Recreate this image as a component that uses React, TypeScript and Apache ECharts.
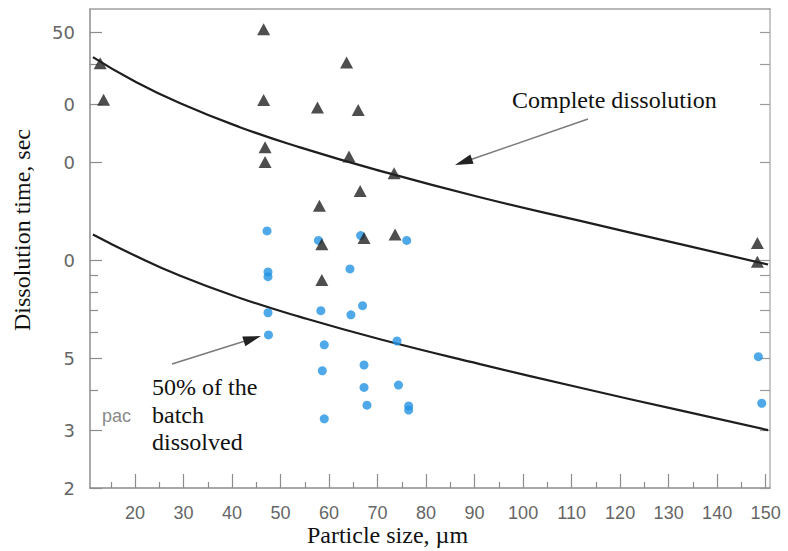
import React, { useEffect, useRef } from "react";
import * as echarts from "echarts";

// ---- axis ticks ----
const xTickValues = [20, 30, 40, 50, 60, 70, 80, 90, 100, 110, 120, 130, 140, 150];
const xMinorTickValues = [15, 25, 35, 45, 55, 65, 75, 85, 95, 105, 115, 125, 135, 145];
const yTickValues = [2, 3, 5, 10, 20, 30, 50];
const yTickLabels = ["2", "3", "5", "0", "0", "0", "50"];
const yMinorTickValues = [4, 6, 7, 8, 9, 40];
const xRange = [10.7, 150.9];
const yRange = [2, 59];

// ---- complete dissolution (triangles) ----
const triX = [12.8, 13.5, 46.5, 46.5, 46.8, 46.8, 63.6, 57.6, 66.0, 64.1, 73.4, 66.4, 58.0, 58.5, 67.2, 73.6, 58.5, 148.3, 148.3];
const triY = [40.2, 31.1, 51.1, 31.0, 22.2, 20.0, 40.4, 29.4, 28.9, 20.8, 18.5, 16.3, 14.7, 11.2, 11.7, 12.0, 8.7, 11.3, 9.9];

// ---- 50% dissolved (circles) ----
const circX = [47.2, 47.4, 47.4, 47.4, 47.5, 57.8, 66.5, 76.0, 64.3, 58.3, 64.5, 66.9, 74.0, 59.0, 58.6, 67.2, 67.2, 74.3, 67.8, 76.4, 76.4, 59.0, 148.5, 149.2];
const circY = [12.3, 9.2, 8.9, 6.9, 5.9, 11.5, 11.9, 11.5, 9.4, 7.0, 6.8, 7.25, 5.65, 5.5, 4.58, 4.77, 4.07, 4.14, 3.59, 3.57, 3.47, 3.26, 5.06, 3.64];

// ---- fitted curves ----
const curveX = [11.3, 19.6, 29.3, 41.6, 54.0, 70.5, 91.1, 111.8, 132.4, 150.5];
const upperY = [42.0, 35.6, 30.3, 25.6, 22.2, 18.8, 15.6, 13.2, 11.2, 9.7];
const lowerY = [12.0, 10.4, 8.96, 7.66, 6.70, 5.72, 4.80, 4.06, 3.46, 3.01];

const lg = (v: number) => Math.log10(v);
const pairs = (xs: number[], ys: number[]) => xs.map((x, i) => [x, lg(ys[i])]);

export default function App() {
  const ref = useRef<HTMLDivElement>(null);

  useEffect(() => {
    document.body.style.margin = "0";
    const chart = echarts.init(ref.current!, null, { renderer: "svg" });
    const axisGray = "#8c8c8c";
    const labelGray = "#666666";
    const serif = '"Liberation Serif", "Times New Roman", serif';

    const yLabelFmt = (v: number) => {
      const i = yTickValues.findIndex((t) => Math.abs(lg(t) - v) < 1e-6);
      return i >= 0 ? yTickLabels[i] : "";
    };

    const textStyle = (text: string, font: string, fill: string, align: string) => ({
      text,
      font,
      fill,
      textAlign: align,
      textVerticalAlign: "middle",
      align,
      verticalAlign: "middle",
    });

    const option: any = {
      animation: false,
      backgroundColor: "#ffffff",
      grid: { left: 90, right: 18, top: 9, bottom: 63, containLabel: false, outerBoundsMode: "none" },
      xAxis: [
        {
          type: "value",
          min: xRange[0],
          max: xRange[1],
          position: "bottom",
          axisLine: { show: true, lineStyle: { color: axisGray, width: 1.5 } },
          axisTick: { show: true, inside: true, length: 14, customValues: xTickValues, lineStyle: { color: axisGray, width: 1.2 } },
          axisLabel: {
            show: true,
            customValues: xTickValues,
            margin: 16,
            color: labelGray,
            fontSize: 18,
            fontFamily: '"Liberation Sans", Arial, sans-serif',
            formatter: (v: number) => String(Math.round(v)),
          },
          splitLine: { show: false },
        },
        {
          type: "value",
          min: xRange[0],
          max: xRange[1],
          position: "bottom",
          axisLine: { show: false },
          axisTick: { show: true, inside: true, length: 6, customValues: xMinorTickValues, lineStyle: { color: axisGray, width: 1.2 } },
          axisLabel: { show: false },
          splitLine: { show: false },
        },
        {
          type: "value",
          min: xRange[0],
          max: xRange[1],
          position: "top",
          axisLine: { show: true, lineStyle: { color: "#a0a0a0", width: 1.5 } },
          axisTick: { show: false },
          axisLabel: { show: false },
          splitLine: { show: false },
        },
      ],
      yAxis: [
        {
          type: "value",
          min: lg(yRange[0]),
          max: lg(yRange[1]),
          position: "left",
          axisLine: { show: true, lineStyle: { color: axisGray, width: 1.5 } },
          axisTick: { show: true, inside: true, length: 12, customValues: yTickValues.map(lg), lineStyle: { color: axisGray, width: 1.2 } },
          axisLabel: {
            show: true,
            customValues: yTickValues.map(lg),
            margin: 15,
            color: labelGray,
            fontSize: 18,
            fontFamily: '"DejaVu Sans", sans-serif',
            padding: [6, 0, 0, 0],
            formatter: yLabelFmt,
          },
          splitLine: { show: false },
        },
        {
          type: "value",
          min: lg(yRange[0]),
          max: lg(yRange[1]),
          position: "left",
          axisLine: { show: false },
          axisTick: { show: true, inside: true, length: 8, customValues: yMinorTickValues.map(lg), lineStyle: { color: axisGray, width: 1.2 } },
          axisLabel: { show: false },
          splitLine: { show: false },
        },
        {
          type: "value",
          min: lg(yRange[0]),
          max: lg(yRange[1]),
          position: "right",
          axisLine: { show: true, lineStyle: { color: "#b5b5b5", width: 1.5 } },
          axisTick: {
            show: true,
            inside: true,
            length: 10,
            customValues: yTickValues.concat(yMinorTickValues).map(lg),
            lineStyle: { color: "#9a9a9a", width: 1.2 },
          },
          axisLabel: { show: false },
          splitLine: { show: false },
        },
      ],
      series: [
        {
          type: "line",
          name: "Complete dissolution fit",
          xAxisIndex: 0,
          yAxisIndex: 0,
          data: pairs(curveX, upperY),
          smooth: true,
          showSymbol: false,
          symbol: "none",
          lineStyle: { color: "#1e1e1e", width: 2.2 },
          z: 2,
        },
        {
          type: "line",
          name: "50% dissolved fit",
          xAxisIndex: 0,
          yAxisIndex: 0,
          data: pairs(curveX, lowerY),
          smooth: true,
          showSymbol: false,
          symbol: "none",
          lineStyle: { color: "#1e1e1e", width: 2.2 },
          z: 2,
        },
        {
          type: "scatter",
          name: "50% of the batch dissolved",
          xAxisIndex: 0,
          yAxisIndex: 0,
          data: pairs(circX, circY),
          symbol: "circle",
          symbolSize: 9,
          itemStyle: { color: "#2394e4" },
          z: 3,
        },
        {
          type: "scatter",
          name: "Complete dissolution",
          xAxisIndex: 0,
          yAxisIndex: 0,
          data: pairs(triX, triY),
          symbol: "triangle",
          symbolSize: [13, 12],
          itemStyle: { color: "#222222" },
          z: 4,
        },
      ],
      graphic: [
        { type: "text", x: 22, y: 230, rotation: Math.PI / 2, style: textStyle("Dissolution time, sec", `24px ${serif}`, "#111", "center") },
        { type: "text", x: 387.5, y: 535, style: textStyle("Particle size, \u00b5m", `24px ${serif}`, "#111", "center") },
        { type: "text", x: 512, y: 100, style: textStyle("Complete dissolution", `24px ${serif}`, "#111", "left") },
        { type: "text", x: 152, y: 387, style: textStyle("50% of the", `24px ${serif}`, "#111", "left") },
        { type: "text", x: 152, y: 415, style: textStyle("batch", `24px ${serif}`, "#111", "left") },
        { type: "text", x: 152, y: 442, style: textStyle("dissolved", `24px ${serif}`, "#111", "left") },
        { type: "text", x: 102, y: 416, style: textStyle("pac", '18px "Liberation Sans", Arial, sans-serif', "#8a8a8a", "left") },
        { type: "line", shape: { x1: 588, y1: 119, x2: 471, y2: 159.5 }, style: { stroke: "#7a7a7a", lineWidth: 1.5 } },
        { type: "polygon", shape: { points: [[455, 165], [473.6, 163.8], [470.3, 154.4]] }, style: { fill: "#222" } },
        { type: "line", shape: { x1: 172, y1: 364, x2: 245, y2: 341 }, style: { stroke: "#7a7a7a", lineWidth: 1.5 } },
        { type: "polygon", shape: { points: [[261, 336], [245.3, 346.2], [242.3, 336.6]] }, style: { fill: "#222" } },
      ],
    };

    chart.setOption(option);
    return () => chart.dispose();
  }, []);

  return <div ref={ref} style={{ width: 788, height: 551 }} />;
}
